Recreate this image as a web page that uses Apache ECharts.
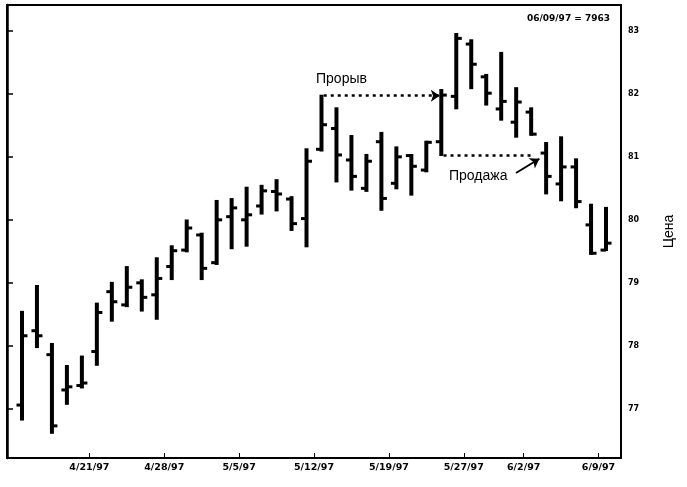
<!DOCTYPE html>
<html>
<head>
<meta charset="utf-8">
<script src="https://cdn.jsdelivr.net/npm/echarts@6/dist/echarts.min.js"></script>
<style>
html,body{margin:0;padding:0;background:#fff;}
#chart{width:687px;height:487px;}
</style>
</head>
<body>
<div id="chart"></div>
<script>
// ---- data ----
const dates = [
  '4/14/97','4/15/97','4/16/97','4/17/97','4/18/97',
  '4/21/97','4/22/97','4/23/97','4/24/97','4/25/97',
  '4/28/97','4/29/97','4/30/97','5/1/97','5/2/97',
  '5/5/97','5/6/97','5/7/97','5/8/97','5/9/97',
  '5/12/97','5/13/97','5/14/97','5/15/97','5/16/97',
  '5/19/97','5/20/97','5/21/97','5/22/97','5/23/97',
  '5/27/97','5/28/97','5/29/97','5/30/97',
  '6/2/97','6/3/97','6/4/97','6/5/97','6/6/97',
  '6/9/97'
];
const openP  = [77.06,78.24,77.86,77.30,77.37, 77.91,78.86,78.65,79.00,78.81, 79.26,79.52,79.76,79.32,80.05, 80.00,80.22,80.45,80.33,80.02, 81.12,81.45,80.95,80.50,81.24, 80.58,81.02,80.79,81.24,81.96, 82.79,82.27,81.76,81.55, 81.71,81.06,80.57,80.84,79.92, 79.52];
const highP  = [78.54,78.95,78.03,77.68,77.83, 78.67,79.00,79.25,79.04,79.39, 79.58,79.99,79.78,80.30,80.33, 80.51,80.54,80.63,80.36,81.12, 81.97,81.77,81.33,81.03,81.38, 81.15,81.03,81.24,82.06,82.95, 82.85,82.30,82.65,82.09, 81.77,81.22,81.31,80.96,80.24, 80.19];
const lowP   = [76.83,77.98,76.62,77.08,77.34, 77.70,78.40,78.63,78.56,78.43, 79.06,79.50,79.06,79.30,79.55, 79.59,80.10,80.15,79.84,79.58, 81.10,80.61,80.48,80.46,80.16, 80.50,80.40,80.77,81.03,81.77, 82.09,81.83,81.59,81.32, 81.35,80.42,80.31,80.20,79.46, 79.52];
const closeP = [78.16,78.16,76.73,77.35,77.41, 78.53,78.70,78.93,78.77,79.07, 79.51,79.87,79.23,80.00,80.19, 80.08,80.46,80.41,79.94,80.93, 81.51,81.03,80.69,80.93,80.34, 81.00,80.85,81.23,81.98,82.88, 82.47,82.01,81.88,81.87, 81.36,80.69,80.84,80.29,79.47, 79.63];
const tickLabels = ['4/21/97','4/28/97','5/5/97','5/12/97','5/19/97','5/27/97','6/2/97','6/9/97'];
const priceTicks = [77,78,79,80,81,82,83];
const lastLabel = '06/09/97 = 7963';
const breakoutText = 'Прорыв';
const sellText = 'Продажа';
const axisName = 'Цена';
const breakoutFrom = '5/12/97', breakoutTo = '5/22/97';
const sellFrom = '5/22/97', sellTo = '6/2/97', sellBar = '6/3/97';

// ---- build ----
const pos = d => dates.indexOf(d) + 1;           // bar slot on x axis
const ohlc = dates.map((d, i) => [i + 1, openP[i], highP[i], lowP[i], closeP[i]]);
const tickValues = tickLabels.map(l => pos(l) - 0.5);

const chart = echarts.init(document.getElementById('chart'));
const axisFont = 'DejaVu Sans';

chart.setOption({
  animation: false,
  backgroundColor: '#fff',
  grid: { left: 7, right: 66, top: 5, bottom: 29, show: true, borderColor: '#000', borderWidth: 2 },
  title: {
    text: lastLabel, right: 72, top: 9,
    textStyle: { fontFamily: axisFont, fontWeight: 'bold', fontSize: 9, color: '#000' }
  },
  xAxis: {
    type: 'value', min: 0, max: dates.length + 1,
    axisLine: { show: true, onZero: false, lineStyle: { color: '#000', width: 2 } },
    axisTick: { show: true, inside: true, length: 5, customValues: tickValues, lineStyle: { color: '#000', width: 1 } },
    axisLabel: {
      customValues: tickValues, margin: 5, color: '#000',
      fontFamily: axisFont, fontWeight: 'bold', fontSize: 9.5,
      formatter: v => dates[Math.round(v + 0.5) - 1]
    },
    splitLine: { show: false }
  },
  yAxis: {
    type: 'value', position: 'right', min: 76.22, max: 83.41,
    name: axisName, nameLocation: 'middle', nameGap: 41, nameRotate: 90,
    nameTextStyle: { fontFamily: 'Liberation Sans', fontSize: 14, color: '#000' },
    axisLine: { show: true, lineStyle: { color: '#000', width: 2.5 } },
    axisTick: { show: true, inside: false, length: 6, customValues: priceTicks, lineStyle: { color: '#000', width: 1.5 } },
    axisLabel: {
      customValues: priceTicks, margin: 7, color: '#000',
      fontFamily: axisFont, fontWeight: 'bold', fontSize: 8
    },
    splitLine: { show: false }
  },
  graphic: [
    { type: 'text', left: 316, top: 72, style: { text: breakoutText, font: '14px "Liberation Sans"', fill: '#000' } },
    { type: 'text', left: 449, top: 169, style: { text: sellText, font: '14px "Liberation Sans"', fill: '#000' } }
  ],
  series: [{
    type: 'custom',
    data: ohlc,
    encode: { x: 0, y: [1, 2, 3, 4] },
    renderItem: function (params, api) {
      const x = api.value(0);
      const o = api.coord([x, api.value(1)]);
      const h = api.coord([x, api.value(2)]);
      const l = api.coord([x, api.value(3)]);
      const c = api.coord([x, api.value(4)]);
      const t = 5.5;
      return {
        type: 'group',
        children: [
          { type: 'line', shape: { x1: h[0], y1: h[1] - 1, x2: l[0], y2: l[1] + 1 }, style: { stroke: '#000', lineWidth: 4 } },
          { type: 'line', shape: { x1: o[0] - t, y1: o[1], x2: o[0], y2: o[1] }, style: { stroke: '#000', lineWidth: 3 } },
          { type: 'line', shape: { x1: c[0], y1: c[1], x2: c[0] + t, y2: c[1] }, style: { stroke: '#000', lineWidth: 3 } }
        ]
      };
    },
    markLine: {
      silent: true,
      animation: false,
      symbol: ['none', 'arrow'],
      symbolSize: 9,
      label: { show: false },
      lineStyle: { color: '#000', width: 2.5, type: [3, 4], opacity: 1 },
      data: [
        [
          { coord: [pos(breakoutFrom) + 0.15, highP[pos(breakoutFrom) - 1]] },
          { coord: [pos(breakoutTo) - 0.1, highP[pos(breakoutFrom) - 1]] }
        ],
        [
          { coord: [pos(sellFrom) + 0.15, lowP[pos(sellFrom) - 1]], symbol: 'none' },
          { coord: [pos(sellTo), lowP[pos(sellFrom) - 1]], symbol: 'none' }
        ],
        [
          { x: 516, y: 173, symbol: 'none', lineStyle: { type: 'solid', width: 2 } },
          { coord: [pos(sellBar) - 0.45, 80.97], symbol: 'arrow', lineStyle: { type: 'solid', width: 2 } }
        ]
      ]
    }
  }]
});
</script>
</body>
</html>
